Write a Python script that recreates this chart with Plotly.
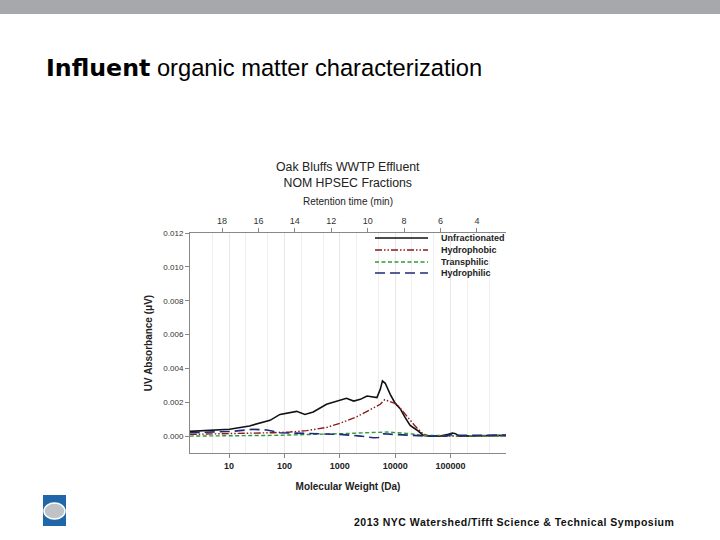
import plotly.graph_objects as go

# ---- data ----
unf_mw = [1.95, 10.2, 23.4, 55, 83, 117, 166, 234, 331, 575, 871, 1318, 1778, 2344, 3090,
          4074, 4677, 5370, 5888, 6607, 8128, 10000, 12300, 15140, 18620, 24550, 32360,
          42660, 64570, 91200, 107150, 123000, 141250, 1000000]
unf_abs = [0.00028, 0.0004, 0.0006, 0.00093, 0.00128, 0.00138, 0.00146, 0.00128, 0.00142,
           0.00188, 0.00207, 0.00223, 0.00207, 0.00217, 0.00237, 0.00233, 0.00227, 0.00276,
           0.00326, 0.00312, 0.00247, 0.00193, 0.00162, 0.00109, 0.00063, 0.00036, 0.00004,
           0.0, 0.0, 0.0001, 0.00018, 0.00014, 0.0, 0.00004]

phob_mw = [1.95, 15.5, 63, 126, 251, 575, 1000, 2042, 4074, 5370, 6457, 7586, 10715,
           16220, 22900, 32360, 42660, 1000000]
phob_abs = [0.0001, 0.00014, 0.0002, 0.00024, 0.00032, 0.00051, 0.00075, 0.00115, 0.00164,
            0.00188, 0.00215, 0.00205, 0.00188, 0.00118, 0.00059, 0.0001, 0.0, 0.00002]

trans_mw = [1.95, 63, 1000, 4074, 7080, 16220, 32360, 1000000]
trans_abs = [0.0, 0.00004, 0.00014, 0.0002, 0.00024, 0.00016, 0.00004, 0.0]

phil_mw = [1.95, 11.7, 27, 48, 83, 251, 1000, 2344, 4074, 5012, 6166, 9333, 16220,
           37150, 85110, 107150, 141250, 1000000]
phil_abs = [0.0002, 0.00028, 0.0004, 0.00036, 0.0002, 0.00016, 0.0001, 0.0, -0.0001,
            -0.00008, 0.00014, 0.0001, 0.00006, 0.0, 0.0, 0.00014, 0.00004, 0.00006]

series_names = ["Unfractionated", "Hydrophobic", "Transphilic", "Hydrophilic"]
mw_ticks = [10, 100, 1000, 10000, 100000]
mw_labels = ["10", "100", "1000", "10000", "100000"]
rt_ticks = [18, 16, 14, 12, 10, 8, 6, 4]
y_ticks = [0.0, 0.002, 0.004, 0.006, 0.008, 0.010, 0.012]

FONT = "Liberation Sans, Arial, sans-serif"

fig = go.Figure()
styles = [
    dict(color="#111111", width=1.6, dash="solid"),
    dict(color="#8B1A1A", width=1.4, dash="7px,2px,1.5px,2px,1.5px,2px"),
    dict(color="#2E9B3A", width=1.4, dash="4px,2.5px"),
    dict(color="#1F2A7A", width=1.6, dash="10px,5px"),
]
data = [(unf_mw, unf_abs), (phob_mw, phob_abs), (trans_mw, trans_abs), (phil_mw, phil_abs)]
for name, (xs, ys), st in zip(series_names, data, styles):
    fig.add_trace(go.Scatter(x=xs, y=ys, mode="lines", name=name, line=st, showlegend=False))

# invisible trace to activate top retention-time axis
fig.add_trace(go.Scatter(x=[19.76, 2.40], y=[None, None], xaxis="x2", showlegend=False,
                         hoverinfo="skip", mode="lines"))

fig.update_layout(
    width=720, height=540, autosize=False,
    margin=dict(l=190, r=214, t=233, b=87, pad=0),
    paper_bgcolor="white", plot_bgcolor="white",
    font=dict(family=FONT, color="#222222"),
    showlegend=False,
    xaxis=dict(type="log", range=[0.295, 6.0], tickvals=mw_ticks, ticktext=mw_labels,
               tickfont=dict(size=9, weight="bold", color="#222"),
               ticks="outside", ticklen=4, tickcolor="#888",
               showline=True, linecolor="#888", linewidth=1, mirror=True,
               showgrid=True, gridcolor="#e8e8e8", gridwidth=0.5,
               minor=dict(showgrid=True, gridcolor="#f0eeee", gridwidth=0.5),
               zeroline=False,
               title=dict(text="Molecular Weight (Da)", font=dict(size=10, weight="bold", color="#222"),
                          standoff=13)),
    xaxis2=dict(overlaying="x", side="top", range=[19.76, 2.40], tickvals=rt_ticks,
                tickfont=dict(size=9, color="#333"), ticks="outside", ticklen=4, tickcolor="#888",
                showgrid=False, zeroline=False, showline=False,
                title=dict(text="Retention time (min)", font=dict(size=10, color="#222"), standoff=8)),
    yaxis=dict(range=[-0.001, 0.012], tickvals=y_ticks, tickformat=".3f",
               tickfont=dict(size=8, color="#333"), ticks="outside", ticklen=4, tickcolor="#888",
               showline=True, linecolor="#888", linewidth=1,
               showgrid=False, zeroline=False,
               title=dict(text="UV Absorbance (μV)", font=dict(size=10, weight="bold", color="#222"),
                          standoff=8)),
)

def px(x):
    return (x - 190) / 316.0

def py(y):
    return (453 - y) / 220.0

# legend (keys + labels)
legend_rows = [238, 250, 262, 273]
for name, st, ry in zip(series_names, styles, legend_rows):
    fig.add_shape(type="line", xref="paper", yref="paper", x0=px(375), x1=px(428),
                  y0=py(ry), y1=py(ry), line=st)
    fig.add_annotation(xref="paper", yref="paper", x=px(439), y=py(ry), xanchor="left",
                       yanchor="middle", text="<b>%s</b>" % name, showarrow=False,
                       font=dict(size=9, family=FONT, color="#222"))

# top grey bar
fig.add_shape(type="rect", xref="paper", yref="paper", x0=px(0), x1=px(720), y0=py(0), y1=py(14),
              fillcolor="#A7A8AC", line=dict(width=0), layer="below")
# logo
fig.add_shape(type="rect", xref="paper", yref="paper", x0=px(43), x1=px(66), y0=py(495), y1=py(526),
              fillcolor="#1F67A8", line=dict(width=0))
fig.add_shape(type="circle", xref="paper", yref="paper", x0=px(44), x1=px(65), y0=py(503), y1=py(519),
              fillcolor="#BFC2C7", line=dict(color="white", width=1.5))

# slide title
fig.add_annotation(xref="paper", yref="paper", x=px(44), y=py(68), xanchor="left", yanchor="middle",
                   text="<span style=\"font-family:'DejaVu Sans'\"><b>Influent</b></span> organic matter characterization",
                   showarrow=False, font=dict(size=23.7, family=FONT, color="#000"))
# chart title
fig.add_annotation(xref="paper", yref="paper", x=px(348), y=py(175), xanchor="center", yanchor="middle",
                   text="Oak Bluffs WWTP Effluent<br>NOM HPSEC Fractions", showarrow=False,
                   font=dict(size=12.3, family=FONT, color="#222"))
# footer
fig.add_annotation(xref="paper", yref="paper", x=px(676), y=py(522), xanchor="right", yanchor="middle",
                   text="<span style=\"letter-spacing:0.5px\"><b>2013 NYC Watershed/Tifft Science &amp; Technical Symposium</b></span>",
                   showarrow=False, font=dict(size=10.5, family=FONT, color="#111"))

fig.write_html("out.html", config={"displayModeBar": False},
               post_script="document.body.style.margin='0px';")
